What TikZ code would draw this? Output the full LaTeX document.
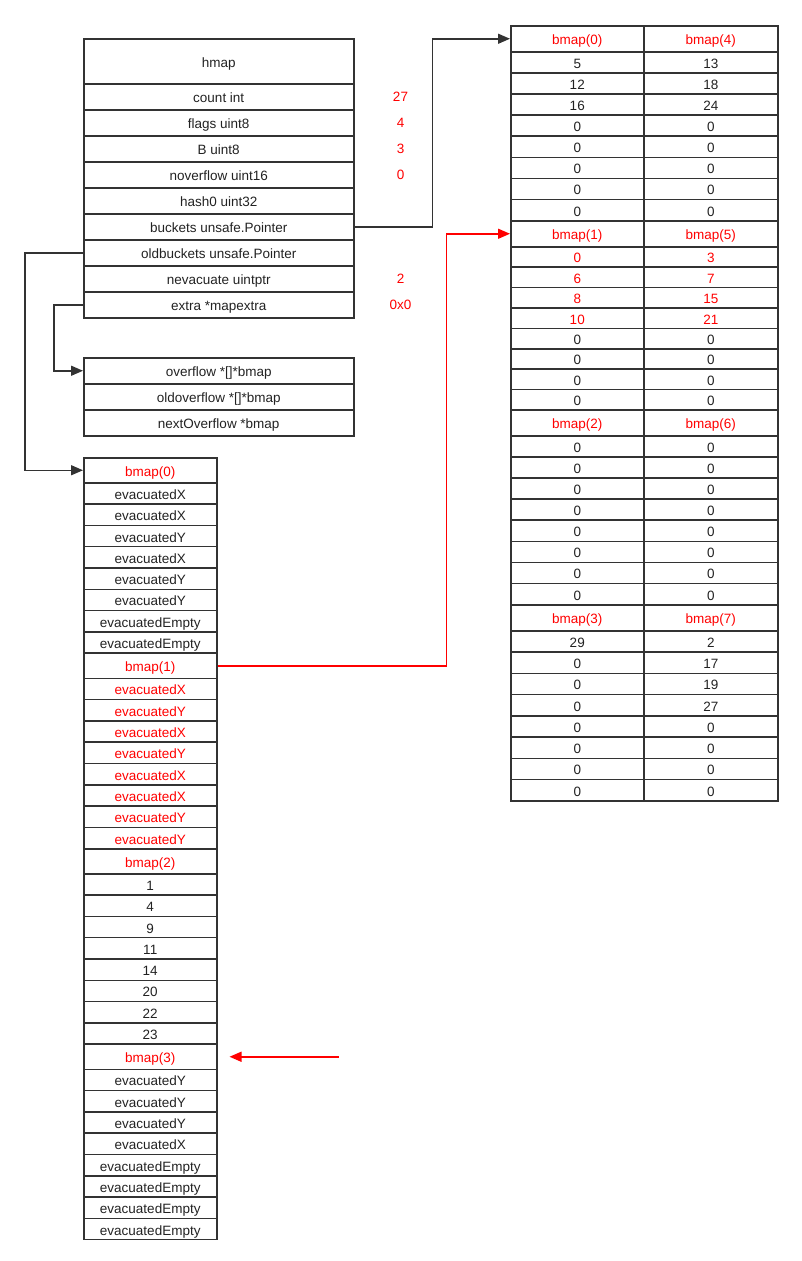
\documentclass[tikz,border=0pt]{standalone}
\usepackage{fontspec}
\setmainfont{Liberation Sans}
\usetikzlibrary{arrows.meta}
\definecolor{linec}{HTML}{333333}
\definecolor{txtc}{HTML}{222222}
\definecolor{hotc}{HTML}{FF0000}
\tikzset{
  cell/.style={draw=linec, line width=1.5pt, inner sep=0pt, anchor=north west,
    text height=12pt, text depth=0pt, text=txtc, font=\fontsize{13.5}{15}\selectfont},
  hot/.style={text=hotc},
  cold/.style={},
  val/.style={text=hotc, inner sep=0pt, font=\fontsize{13.5}{15}\selectfont},
  link/.style={draw=linec, line width=1.5pt, -{Triangle[length=12pt,width=10pt]}},
  hotlink/.style={draw=hotc, line width=1.5pt, -{Triangle[length=12pt,width=10pt]}},
}
\begin{document}
\begin{tikzpicture}[x=1pt,y=-1pt]
  \useasboundingbox (0,0) rectangle (801,1261);

  % hmap struct
  \node[cell, minimum width=270, minimum height=45] (hmap) at (83,38) {hmap};
  \foreach \f/\n [count=\k] in {count int/count, flags uint8/flags, B uint8/B,
      noverflow uint16/noverflow, hash0 uint32/hash0, buckets unsafe.Pointer/buckets,
      oldbuckets unsafe.Pointer/oldbuckets, nevacuate uintptr/nevacuate,
      extra *mapextra/extra}
    \node[cell, minimum width=270, minimum height=26] (h-\n) at (83,{83+(\k-1)*26}) {\f};
  \foreach \v/\n in {27/count, 4/flags, 3/B, 0/noverflow, 2/nevacuate, 0x0/extra}
    \node[val] (v-\n) at ([xshift=46pt]h-\n.east) {\v};

  % mapextra
  \foreach \f/\n [count=\k] in {overflow *[]*bmap/over, oldoverflow *[]*bmap/oldover,
      nextOverflow *bmap/next}
    \node[cell, minimum width=270, minimum height=26] (e-\n) at (83,{357+(\k-1)*26}) {\f};

  % old buckets
  \foreach \g in {0,...,3}
    \node[cell, hot, minimum width=133, minimum height=25] (o\g) at (83,{457+\g*195.5}) {bmap(\g)};
  \foreach \t/\s [count=\k] in {evacuatedX/cold, evacuatedX/cold, evacuatedY/cold,
      evacuatedX/cold, evacuatedY/cold, evacuatedY/cold, evacuatedEmpty/cold, evacuatedEmpty/cold}
    \node[cell, \s, minimum width=133, minimum height=21.3] (o0-\k) at (83,{482+(\k-1)*21.3}) {\t};
  \foreach \t/\s [count=\k] in {evacuatedX/hot, evacuatedY/hot, evacuatedX/hot,
      evacuatedY/hot, evacuatedX/hot, evacuatedX/hot, evacuatedY/hot, evacuatedY/hot}
    \node[cell, \s, minimum width=133, minimum height=21.3] (o1-\k) at (83,{677.5+(\k-1)*21.3}) {\t};
  \foreach \t/\s [count=\k] in {1/cold, 4/cold, 9/cold, 11/cold, 14/cold, 20/cold, 22/cold, 23/cold}
    \node[cell, \s, minimum width=133, minimum height=21.3] (o2-\k) at (83,{873+(\k-1)*21.3}) {\t};
  \foreach \t/\s [count=\k] in {evacuatedY/cold, evacuatedY/cold, evacuatedY/cold,
      evacuatedX/cold, evacuatedEmpty/cold, evacuatedEmpty/cold, evacuatedEmpty/cold, evacuatedEmpty/cold}
    \node[cell, \s, minimum width=133, minimum height=21.3] (o3-\k) at (83,{1068.5+(\k-1)*21.3}) {\t};

  % new buckets
  \foreach \g/\top in {0/25, 1/220, 2/409, 3/604} {
    \pgfmathtruncatemacro{\h}{\g+4}
    \node[cell, hot, minimum width=133, minimum height=26] (n\g) at (510,\top) {bmap(\g)};
    \node[cell, hot, minimum width=134, minimum height=26] (n\h) at (643,\top) {bmap(\h)};
  }
  \foreach \a/\b/\s [count=\k] in {5/13/cold, 12/18/cold, 16/24/cold, 0/0/cold,
      0/0/cold, 0/0/cold, 0/0/cold, 0/0/cold} {
    \node[cell, \s, minimum width=133, minimum height=21.1] (n0-\k) at (510,{51+(\k-1)*21.1}) {\a};
    \node[cell, \s, minimum width=134, minimum height=21.1] (n4-\k) at (643,{51+(\k-1)*21.1}) {\b};
  }
  \foreach \a/\b/\s [count=\k] in {0/3/hot, 6/7/hot, 8/15/hot, 10/21/hot,
      0/0/cold, 0/0/cold, 0/0/cold, 0/0/cold} {
    \node[cell, \s, minimum width=133, minimum height=20.4] (n1-\k) at (510,{246+(\k-1)*20.4}) {\a};
    \node[cell, \s, minimum width=134, minimum height=20.4] (n5-\k) at (643,{246+(\k-1)*20.4}) {\b};
  }
  \foreach \a/\b/\s [count=\k] in {0/0/cold, 0/0/cold, 0/0/cold, 0/0/cold,
      0/0/cold, 0/0/cold, 0/0/cold, 0/0/cold} {
    \node[cell, \s, minimum width=133, minimum height=21.1] (n2-\k) at (510,{435+(\k-1)*21.1}) {\a};
    \node[cell, \s, minimum width=134, minimum height=21.1] (n6-\k) at (643,{435+(\k-1)*21.1}) {\b};
  }
  \foreach \a/\b/\s [count=\k] in {29/2/cold, 0/17/cold, 0/19/cold, 0/27/cold,
      0/0/cold, 0/0/cold, 0/0/cold, 0/0/cold} {
    \node[cell, \s, minimum width=133, minimum height=21.25] (n3-\k) at (510,{630+(\k-1)*21.25}) {\a};
    \node[cell, \s, minimum width=134, minimum height=21.25] (n7-\k) at (643,{630+(\k-1)*21.25}) {\b};
  }

  % pointers
  \draw[link] (h-buckets.east) -- ++(78,0) |- (n0.west);
  \draw[link] (h-oldbuckets.west) -- ++(-58,0) |- (o0.west);
  \draw[link] (h-extra.west) -- ++(-29,0) |- (e-over.west);
  \draw[hotlink] (o1.east) -- ++(229,0) |- (n1.west);
  \coordinate (tail) at ([xshift=121pt]o3.east);
  \draw[hotlink] (tail) -- ([xshift=12pt]o3.east);
\end{tikzpicture}
\end{document}
